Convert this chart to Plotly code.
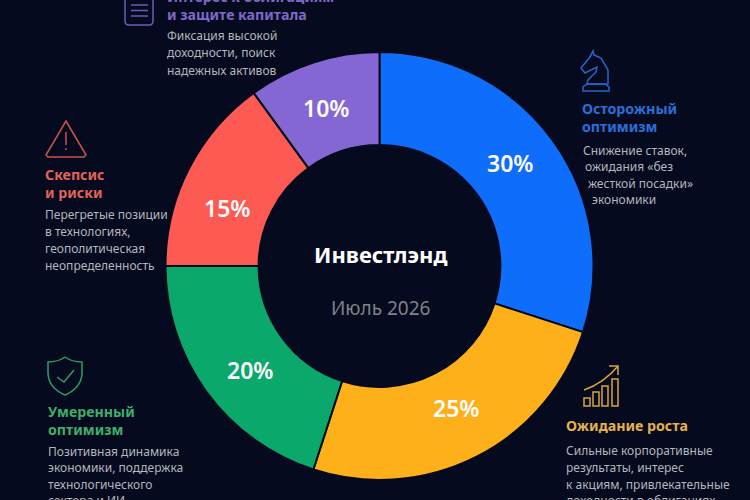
import plotly.graph_objects as go

categories = ["Осторожный оптимизм", "Ожидание роста", "Умеренный оптимизм", "Скепсис и риски", "Интерес к облигациям"]
shares = [30, 25, 20, 15, 10]
slice_colors = ["#0E6EFB", "#FDB019", "#0AA86A", "#FC5A52", "#8467D2"]
label_positions = [(510, 163), (456, 408), (250, 370), (227, 208), (326, 108)]
BG = "#050A1E"
FONT = "Noto Sans"

titles = [
    (582, 117, "Осторожный<br>оптимизм", "#2A6FD8"),
    (566, 425, "Ожидание роста", "#E6B04F"),
    (48, 420, "Умеренный<br>оптимизм", "#3FAE6A"),
    (45, 183, "Скепсис<br>и риски", "#E0635C"),
    (167, 5.5, "Интерес к облигациям<br>и защите капитала", "#7F68C8"),
]
descriptions = [
    (583, 150, "Снижение ставок,"), (585, 166, "ожидания «без"),
    (588, 183, "жесткой посадки»"), (592, 199, "экономики"),
    (566, 450, "Сильные корпоративные"), (566, 467, "результаты, интерес"),
    (566, 484, "к акциям, привлекательные"), (566, 500, "доходности в облигациях"),
    (48, 451, "Позитивная динамика"), (48, 467, "экономики, поддержка"),
    (48, 484, "технологического"), (48, 500, "сектора и ИИ"),
    (45, 215, "Перегретые позиции"), (45, 232, "в технологиях,"),
    (45, 248, "геополитическая"), (45, 265, "неопределенность"),
    (167, 36, "Фиксация высокой"), (167, 53, "доходности, поиск"), (167, 70, "надежных активов"),
]

W, H = 750, 500
cx, cy, r = 379.5, 266, 214


def p(x, y):
    return f"{x / W:.5f},{1 - y / H:.5f}"


def path(points, close=False):
    s = "M" + " L".join(p(*q) for q in points)
    return s + (" Z" if close else "")


def icon(d, color, width=1.5):
    return dict(type="path", xref="paper", yref="paper", path=d, line=dict(color=color, width=width), layer="above")


def qpath(start, *segments):
    s = "M" + p(*start)
    for c, e in segments:
        s += " Q" + p(*c) + " " + p(*e)
    return s


YEL, GRN, RED, BLU, PUR = "#D9A43C", "#2F9E63", "#C9524C", "#2566C8", "#6E5BB8"
shapes = [
    # document
    icon(qpath((125, -3), ((125, -3), (125, 21)), ((125, 25), (129, 25))) + " L" + p(149, 25) + " Q" + p(153, 25) + " " + p(153, 21) + " L" + p(153, -3), PUR),
    icon(path([(131, 5), (148, 5)]), PUR), icon(path([(131, 10.5), (148, 10.5)]), PUR), icon(path([(131, 16), (148, 16)]), PUR),
    # warning triangle
    icon(path([(66, 121), (86, 155), (84, 157), (48, 157), (46, 155)], True), RED),
    icon(path([(66, 132), (66, 145)]), RED), icon(path([(66, 148), (66, 150)]), RED),
    # knight
    icon(path([(593, 51), (594, 55), (601, 58), (608, 70), (608, 84), (587, 84), (588, 80), (596, 72), (597, 67), (585, 73), (581, 68), (590, 57)], True), BLU),
    icon(path([(583, 91), (609, 91), (609, 87), (605, 84), (587, 84), (583, 87)], True), BLU),
    # shield
    icon(qpath((65, 357), ((72, 362), (82, 362))) + " L" + p(82, 374) + " Q" + p(81, 388) + " " + p(65, 395) + " Q" + p(49, 388) + " " + p(48, 374) + " L" + p(48, 362) + " Q" + p(58, 362) + " " + p(65, 357), GRN),
    icon(path([(57, 377), (64, 382), (74, 370)]), GRN),
    # growth bars and arrow
    icon(path([(584, 398), (590, 398), (590, 406), (584, 406)], True), YEL),
    icon(path([(593, 392), (599, 392), (599, 406), (593, 406)], True), YEL),
    icon(path([(602, 386), (608, 386), (608, 406), (602, 406)], True), YEL),
    icon(path([(612, 379), (618, 379), (618, 406), (612, 406)], True), YEL),
    icon(qpath((584, 390), ((604, 383), (618, 366))), YEL),
    icon(path([(609, 366), (618, 366), (618, 375)]), YEL),
]

annotations = []
for x, y, t, c in titles:
    annotations.append(dict(x=x / W, y=1 - y / H, text="<br>".join(f"<b>{s}</b>" for s in t.split("<br>")),
                            font=dict(family=FONT, size=14.2, color=c)))
for x, y, t in descriptions:
    annotations.append(dict(x=x / W, y=1 - y / H, text=t, font=dict(family=FONT, size=12, color="#B4B6BC")))
for a in annotations:
    a.update(xanchor="left", xshift=-1, align="left")
annotations += [
    dict(x=380 / W, y=1 - 254 / H, xanchor="center", text="<b>Инвестлэнд</b>",
         font=dict(family=FONT, size=22, color="#FFFFFF")),
    dict(x=380 / W, y=1 - 308 / H, xanchor="center", text="Июль 2026",
         font=dict(family=FONT, size=19, color="#7F8288")),
]
for v, (x, y) in zip(shares, label_positions):
    annotations.append(dict(x=x / W, y=1 - y / H, xanchor="center", text=f"{v}%",
                            font=dict(family=FONT, size=23, color="#FBFBFD", weight=600)))
for a in annotations:
    a.update(xref="paper", yref="paper", yanchor="middle", showarrow=False, borderpad=0)

fig = go.Figure(go.Pie(
    labels=categories,
    values=shares,
    sort=False,
    direction="clockwise",
    rotation=0,
    hole=0.565,
    marker=dict(colors=slice_colors, line=dict(color=BG, width=2)),
    textinfo="none",
    showlegend=False,
    domain=dict(x=[(cx - r) / W, (cx + r) / W], y=[1 - (cy + r) / H, 1 - (cy - r) / H]),
))
fig.update_layout(
    width=W, height=H, margin=dict(l=0, r=0, t=0, b=0),
    paper_bgcolor=BG, plot_bgcolor=BG,
    shapes=shapes, annotations=annotations,
)
fig.write_html(
    "out.html",
    config=dict(displayModeBar=False),
    post_script="document.body.style.margin='0';document.body.style.overflow='hidden';document.body.style.background='#050A1E';",
)
